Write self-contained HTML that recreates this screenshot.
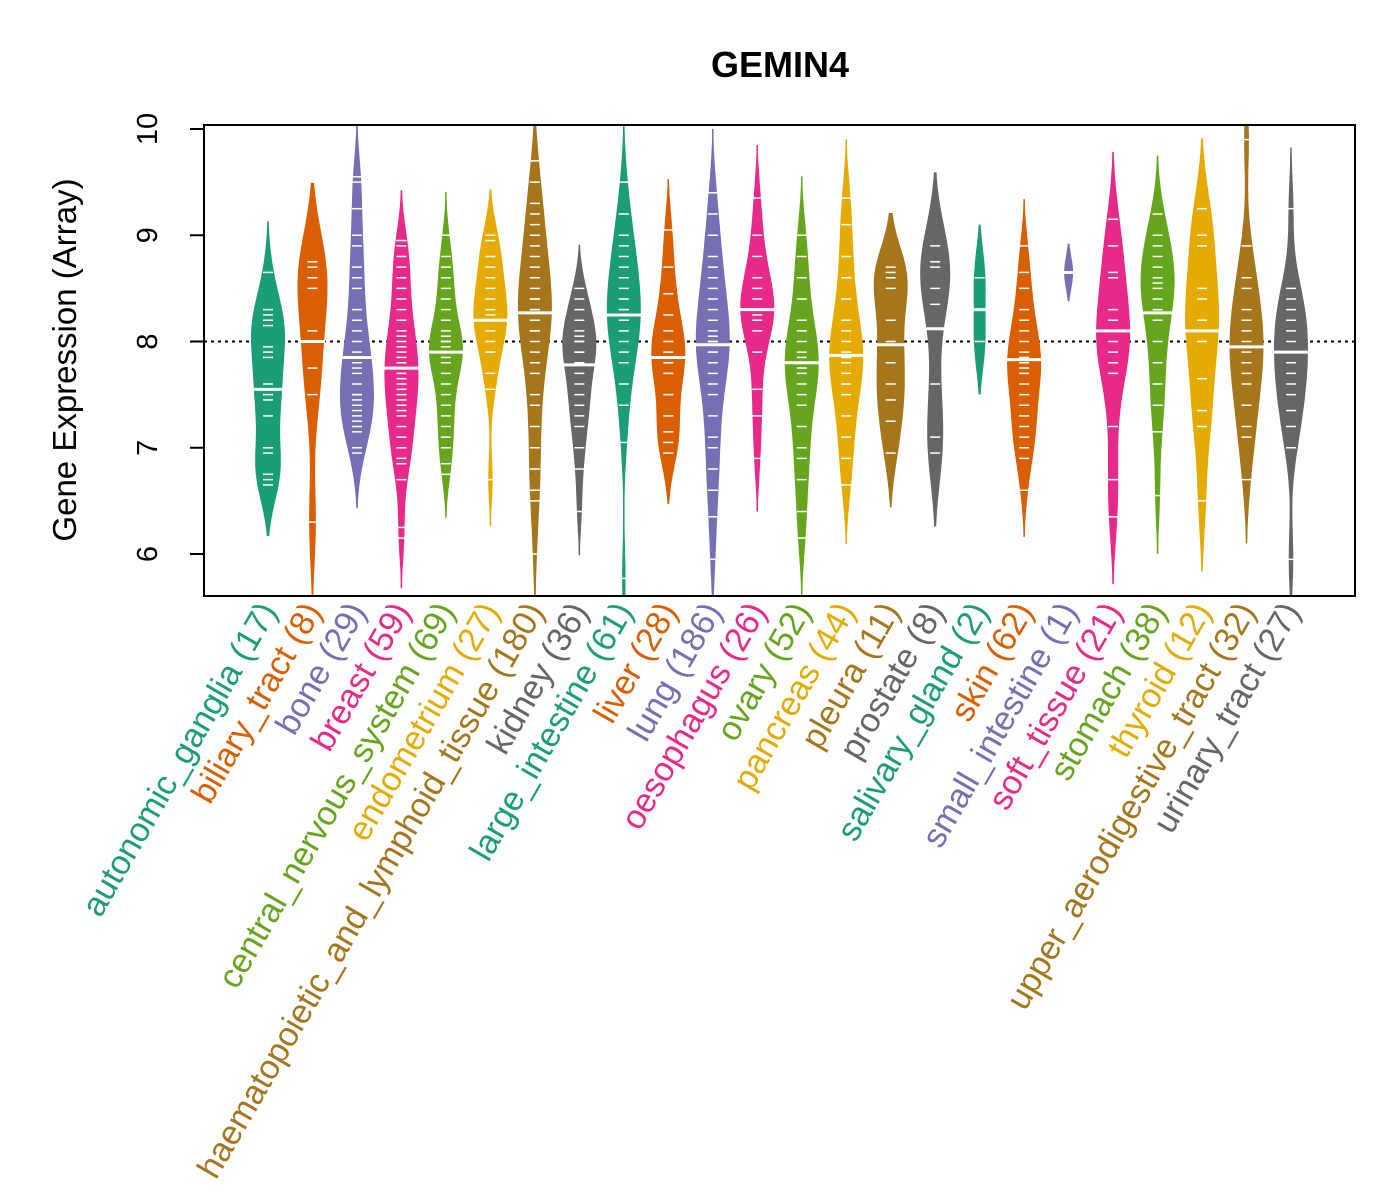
<!DOCTYPE html>
<html><head><meta charset="utf-8"><style>
body{margin:0;background:#fff}
svg{display:block;font-family:"Liberation Sans",sans-serif}
</style></head><body>
<svg id="c" width="1400" height="1200" viewBox="0 0 1400 1200">
<defs><clipPath id="clip"><rect x="204" y="125" width="1151" height="471"/></clipPath></defs>
<text x="780" y="77" text-anchor="middle" font-size="36" font-weight="bold">GEMIN4</text>
<text transform="translate(76,360) rotate(-90)" text-anchor="middle" font-size="33">Gene Expression (Array)</text>
<g id="plot"></g>
</svg>
<script>
const categories=["autonomic_ganglia","biliary_tract","bone","breast","central_nervous_system","endometrium","haematopoietic_and_lymphoid_tissue","kidney","large_intestine","liver","lung","oesophagus","ovary","pancreas","pleura","prostate","salivary_gland","skin","small_intestine","soft_tissue","stomach","thyroid","upper_aerodigestive_tract","urinary_tract"];
const counts=[17,8,29,59,69,27,180,36,61,28,186,26,52,44,11,8,2,62,1,21,38,12,32,27];
const medians=[7.55,8.0,7.85,7.75,7.9,8.2,8.27,7.78,8.25,7.85,7.97,8.3,7.8,7.87,7.97,8.12,8.3,7.83,8.65,8.1,8.27,8.1,7.95,7.9];
const points=[
[6.65,6.7,6.75,6.95,7.0,7.3,7.45,7.6,7.85,7.9,7.95,8.15,8.2,8.25,8.3,8.65,7.5],
[6.3,7.5,7.75,8.1,8.5,8.6,8.7,8.75],
[6.95,7.0,7.2,7.3,7.35,7.4,7.5,7.5,7.6,7.7,7.75,7.8,7.85,7.9,8.0,8.1,8.3,8.5,8.6,8.7,8.9,9.0,9.25,9.5,9.55,7.45,7.25,7.15,8.2],
[6.15,6.25,6.7,6.85,6.9,7.0,7.1,7.2,7.3,7.4,7.45,7.5,7.6,7.65,7.7,7.75,7.8,7.85,7.9,7.95,8.0,8.05,8.1,8.2,8.3,8.4,8.5,8.6,8.7,8.8,8.9,8.95,7.35,7.55,7.0],
[6.75,6.85,7.0,7.1,7.2,7.3,7.4,7.5,7.6,7.7,7.8,7.85,7.9,7.95,8.0,8.05,8.1,8.2,8.3,8.4,8.5,8.6,8.7,8.8,9.0,7.9,7.8,8.0],
[6.7,7.55,7.7,7.9,8.0,8.1,8.2,8.3,8.4,8.5,8.6,8.7,8.8,8.95,9.0,8.2,8.25],
[6.0,6.5,6.6,6.8,7.0,7.2,7.4,7.5,7.7,7.8,7.9,8.0,8.1,8.2,8.3,8.4,8.5,8.6,8.7,8.8,8.9,9.0,9.1,9.2,9.3,9.5,9.7,8.3,8.2,8.4,8.1,8.6],
[6.4,6.8,7.0,7.2,7.3,7.4,7.5,7.6,7.7,7.8,7.9,8.0,8.05,8.1,8.2,8.3,8.4,8.5,8.0,7.9],
[5.77,7.05,7.4,7.6,7.8,7.9,8.0,8.1,8.2,8.3,8.4,8.5,8.6,8.7,8.8,8.9,9.0,9.2,9.5,8.3,8.2],
[6.95,7.05,7.15,7.3,7.5,7.7,7.8,7.9,8.0,8.1,8.25,8.45,8.7,9.05,7.85],
[5.95,6.35,6.6,6.8,7.0,7.1,7.3,7.5,7.6,7.7,7.8,7.9,8.0,8.1,8.2,8.3,8.4,8.5,8.6,8.7,8.8,9.0,9.2,9.4,8.0,7.9,8.05],
[6.9,7.3,7.55,7.9,8.1,8.2,8.3,8.4,8.5,8.6,8.8,9.0,9.35,8.3,8.25],
[6.15,6.4,6.7,6.9,7.0,7.2,7.4,7.5,7.6,7.7,7.8,7.9,8.0,8.1,8.2,8.4,8.6,8.8,9.0,7.85,7.75],
[6.65,6.9,7.1,7.3,7.5,7.6,7.7,7.8,7.9,8.0,8.1,8.2,8.4,8.6,8.8,9.1,9.35,7.85],
[6.95,7.25,7.45,7.6,7.8,8.0,8.2,8.5,8.6,8.65,8.7],
[6.95,7.1,7.6,8.35,8.5,8.7,8.75,8.9],
[8.0,8.6],
[6.6,6.9,7.0,7.1,7.2,7.3,7.4,7.5,7.6,7.7,7.8,7.9,8.0,8.1,8.2,8.3,8.5,8.65,8.9,7.85,7.75],
[8.65],
[6.35,6.7,7.2,7.7,7.8,7.9,8.0,8.1,8.2,8.6,8.65,8.9,9.15,8.3],
[6.55,7.15,7.4,7.6,7.8,8.0,8.2,8.3,8.4,8.5,8.6,8.7,8.8,8.9,9.0,9.2,8.55],
[6.5,7.2,7.35,7.65,8.0,8.2,8.4,8.5,8.9,9.0,9.25,8.1],
[6.7,7.1,7.2,7.4,7.6,7.7,7.8,7.9,8.0,8.1,8.2,8.3,8.5,8.6,8.9,9.9],
[5.95,7.0,7.2,7.35,7.5,7.6,7.7,7.8,7.9,8.0,8.1,8.2,8.3,8.4,8.5,9.25]
];
const yTicks=[6,7,8,9,10];
const refLine=8;
const colors=["#1B9E77","#D95F02","#7570B3","#E7298A","#66A61E","#E6AB02","#A6761D","#666666"];
const NS="http://www.w3.org/2000/svg";
const X0=204,X1=1355,Y0=125,Y1=596;
const yS=v=>554-(v-6)*106.25;
const xS=i=>268+i*(1291-268)/(categories.length-1);
const svg=document.getElementById('c');
const g=document.getElementById('plot');
const lab=document.createElementNS(NS,'g');svg.appendChild(lab);
const clipG=document.createElementNS(NS,'g');clipG.setAttribute('clip-path','url(#clip)');g.appendChild(clipG);
function mk(t,a,p){const e=document.createElementNS(NS,t);for(const k in a)e.setAttribute(k,a[k]);(p||g).appendChild(e);return e;}
const rl=mk('line',{x1:X0,x2:X1,y1:yS(refLine),y2:yS(refLine),stroke:'#000','stroke-width':2,'stroke-dasharray':'3,4'},clipG);


categories.forEach((c,i)=>{
  const pts=points[i],n=pts.length,col=colors[i%8],cx=xS(i);
  const grp=mk('g',{},clipG);
  
  
  const mean=pts.reduce((a,b)=>a+b,0)/n;
  const sd=Math.sqrt(pts.reduce((a,b)=>a+(b-mean)*(b-mean),0)/Math.max(1,n-1));
  const bw=Math.max(0.15,0.75*sd*Math.pow(n,-0.2));
  const lo=Math.min(...pts)-1.8*bw,hi=Math.max(...pts)+1.8*bw;
  const steps=120,dens=[];let mx=0;
  for(let s=0;s<=steps;s++){const v=lo+(hi-lo)*s/steps;let d=0;pts.forEach(p=>{d+=Math.exp(-0.5*((v-p)/bw)**2);});dens.push([v,d]);if(d>mx)mx=d;}
  const hw=Math.min(17,3+counts[i]*1.5);
  mk('line',{x1:cx,x2:cx,y1:yS(hi),y2:yS(lo),stroke:col,'stroke-width':1.5},grp);
  let L=[],R=[];
  dens.forEach(([v,d])=>{const w=d/mx*hw;L.push((cx-w).toFixed(1)+','+yS(v).toFixed(1));R.unshift((cx+w).toFixed(1)+','+yS(v).toFixed(1));});
  mk('polygon',{points:L.concat(R).join(' '),fill:col},grp);
  pts.forEach(p=>{mk('line',{x1:cx-5,x2:cx+5,y1:yS(p),y2:yS(p),stroke:'#fff','stroke-width':1.5},grp);});
  let dm=0;pts.forEach(p=>{dm+=Math.exp(-0.5*((medians[i]-p)/bw)**2);});
  const mw=Math.max(dm/mx*hw,4)+1;
  const ml=mk('line',{x1:cx-mw,x2:cx+mw,y1:yS(medians[i]),y2:yS(medians[i]),stroke:'#fff','stroke-width':3},grp);
  
  
  const t=mk('text',{transform:`translate(${cx+10},611) rotate(-60)`,'text-anchor':'end','font-size':34,fill:col},lab);
  t.textContent=c+' ('+counts[i]+')';
  
  
});
yTicks.forEach(v=>{
  const tk=mk('line',{x1:190,x2:X0,y1:yS(v),y2:yS(v),stroke:'#000','stroke-width':2});
  
  
  const t=mk('text',{transform:`translate(157,${yS(v)}) rotate(-90)`,'text-anchor':'middle','font-size':29});
  t.textContent=v;
  
  
});
const ax=mk('line',{x1:X0,x2:X0,y1:yS(6),y2:yS(10),stroke:'#000','stroke-width':2});


const fr=mk('rect',{x:X0,y:Y0,width:X1-X0,height:Y1-Y0,fill:'none',stroke:'#000','stroke-width':2});


</script>
</body></html>
